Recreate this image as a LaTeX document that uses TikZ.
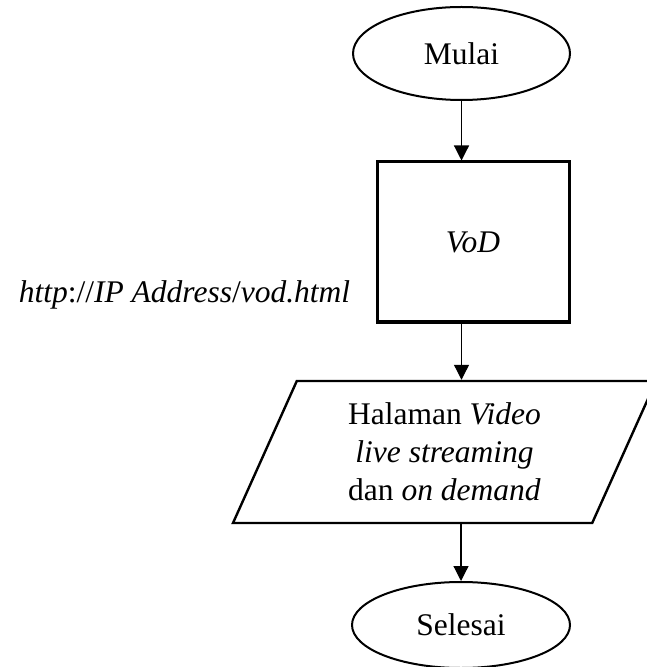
\documentclass[tikz,border=0pt]{standalone}
\usepackage{fontspec}
\setmainfont{Liberation Serif}
\usepackage{tikz}
\usetikzlibrary{arrows.meta, shapes.geometric, positioning}

\begin{document}
\begin{tikzpicture}[->,
				>={Triangle[length=7.5pt,width=7.5pt]},
				x=1pt, y=1pt,
				font=\fontsize{15.75}{19}\selectfont,
				terminal/.style={ellipse, draw, line width=1pt, inner sep=0pt},
				process/.style={rectangle, draw, line width=1.5pt, inner sep=0pt,
					minimum width=96pt, minimum height=80pt},
				inout/.style={trapezium, trapezium left angle=59, trapezium right angle=121,
					trapezium stretches body, draw, line width=1.2pt, inner sep=2pt,
					minimum width=211.5pt, minimum height=71pt, align=center},
				flow/.style={->, black, line width=0.6pt}]
				\useasboundingbox (0,0) rectangle (323,-333.5);
				\node at (230.75,-26.75) (mulai) [terminal, minimum width=108.5pt, minimum height=46.5pt] {Mulai};
				\node at (236.5,-121) (vod) [process] {\textit{VoD}};
				\node at (92.25,-147.5) (url) [] {\textit{http}://\textit{IP Address}/\textit{vod.html}};
				\node at (222.25,-226) (halaman) [inout] {Halaman \textit{Video}\\ \textit{live streaming}\\ dan \textit{on demand}};
				\node at (230.5,-312.5) (selesai) [terminal, minimum width=109pt, minimum height=43pt] {Selesai};
				\draw[flow] (mulai) -- (mulai |- vod.north);
				\draw[flow] (vod.south -| mulai) -- (mulai |- halaman.north);
				\draw[flow] (selesai |- halaman.south) -- (selesai);
			\end{tikzpicture}
\end{document}
